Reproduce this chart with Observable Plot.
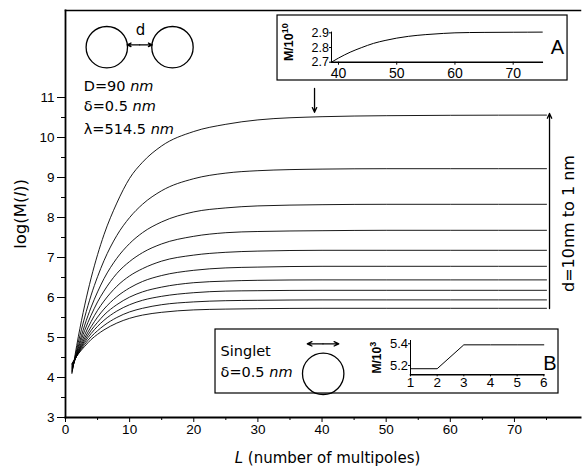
<!DOCTYPE html>
<html><head><meta charset="utf-8">
<script src="https://cdn.jsdelivr.net/npm/d3@7"></script>
<script src="https://cdn.jsdelivr.net/npm/@observablehq/plot@0.6"></script>
<style>
body{margin:0;background:#fff;}
#wrap{position:relative;width:584px;height:470px;}
#insetA{position:absolute;left:277px;top:15px;}
#insetB{position:absolute;left:215px;top:329px;}
</style></head><body>
<div id="wrap"><div id="main"></div><div id="insetA"></div><div id="insetB"></div></div>
<script>
// ---- main data: log(M(l)) vs number of multipoles L, for d = 1..10 nm ----
const L = [1,2,3,4,5,6,8,10,12,15,20,25,30,40,50,60,75];
const d1nm  = [4.10,5.02,5.81,6.49,7.07,7.57,8.36,8.98,9.38,9.79,10.15,10.33,10.44,10.52,10.545,10.555,10.56];
const d2nm  = [4.13,4.88,5.51,6.06,6.52,6.92,7.55,8.00,8.33,8.67,8.97,9.11,9.17,9.21,9.22,9.22,9.22];
const d3nm  = [4.16,4.78,5.31,5.76,6.14,6.47,6.98,7.35,7.62,7.89,8.14,8.24,8.29,8.32,8.33,8.33,8.33];
const d4nm  = [4.19,4.73,5.18,5.56,5.89,6.16,6.60,6.90,7.12,7.34,7.53,7.62,7.65,7.67,7.68,7.68,7.68];
const d5nm  = [4.22,4.68,5.07,5.40,5.68,5.91,6.28,6.54,6.72,6.91,7.06,7.13,7.16,7.18,7.18,7.18,7.18];
const d6nm  = [4.25,4.65,4.99,5.27,5.51,5.71,6.02,6.24,6.40,6.55,6.68,6.74,6.76,6.78,6.78,6.78,6.78];
const d7nm  = [4.28,4.63,4.93,5.18,5.38,5.56,5.82,6.01,6.14,6.26,6.37,6.41,6.43,6.44,6.44,6.44,6.44];
const d8nm  = [4.31,4.62,4.88,5.10,5.28,5.43,5.66,5.82,5.93,6.03,6.12,6.16,6.17,6.18,6.18,6.18,6.18];
const d9nm  = [4.33,4.60,4.83,5.02,5.17,5.30,5.50,5.64,5.73,5.82,5.89,5.92,5.93,5.94,5.94,5.94,5.94];
const d10nm = [4.35,4.59,4.78,4.95,5.08,5.19,5.36,5.48,5.56,5.63,5.69,5.71,5.72,5.73,5.73,5.73,5.73];
const seriesNames = ["1 nm","2 nm","3 nm","4 nm","5 nm","6 nm","7 nm","8 nm","9 nm","10 nm"];
const seriesValues = [d1nm,d2nm,d3nm,d4nm,d5nm,d6nm,d7nm,d8nm,d9nm,d10nm];

const xTicks = [0,10,20,30,40,50,60,70];
const xMinor = [5,15,25,35,45,55,65,75];
const yTicks = [3,4,5,6,7,8,9,10,11];
const yMinor = [3.5,4.5,5.5,6.5,7.5,8.5,9.5,10.5];

// ---- inset A: M/10^10 for d = 1 nm, L = 39..75 ----
const LA = [38.8,40,42,44,46,48,50,52,55,58,60,65,70,75];
const MA = [2.700,2.728,2.768,2.800,2.828,2.848,2.864,2.876,2.888,2.896,2.900,2.903,2.904,2.905];
const xTicksA = [40,50,60,70];
const yTicksA = [2.7,2.8,2.9];

// ---- inset B: singlet, M/10^3 vs L = 1..6 ----
const LB = [1,2,3,4,5,6];
const MB = [5.17,5.17,5.39,5.39,5.39,5.39];
const xTicksB = [1,2,3,4,5,6];
const yTicksB = [5.2,5.4];

// ---- annotations (main-plot data coordinates) ----
const annCircles = [{x:6.44,y:12.2575},{x:16.68,y:12.2575},{x:40.18,y:4.0925}];
const annArrows = [
  {x1:11.57,y1:12.3175,x2:9.62,y2:12.3175},{x1:11.57,y1:12.3175,x2:13.52,y2:12.3175},
  {x1:40.15,y1:4.8425,x2:37.69,y2:4.8425},{x1:40.15,y1:4.8425,x2:42.62,y2:4.8425},
  {x1:38.83,y1:11.225,x2:38.83,y2:10.63},
  {x1:75.47,y1:5.725,x2:75.47,y2:10.6}
];
const annBoxes = [{x1:33.06,x2:78.28,y1:11.425,y2:13.05},{x1:23.39,x2:76.87,y1:3.6,y2:5.2}];
const annTexts = [
  {x:2.85,y:11.29,t:"D=90 nm"},{x:2.85,y:10.79,t:"δ=0.5 nm"},{x:2.85,y:10.2,t:"λ=514.5 nm"},
  {x:24.17,y:4.66,t:"Singlet"},{x:24.17,y:4.13,t:"δ=0.5 nm"}
];
const annD = [{x:11.7,y:12.675,t:"d"}];
const annRange = [{x:78.43,y:7.85,t:"d=10nm to 1 nm"}];

const rows = seriesNames.flatMap((d,j)=>L.map((l,i)=>({L:l,M:seriesValues[j][i],d})));
const sans = "Liberation Sans, Arial, sans-serif";
const wide = "DejaVu Sans, sans-serif";

const main = Plot.plot({
  width:584, height:470, marginLeft:65, marginRight:4, marginTop:10, marginBottom:53,
  x:{domain:[0,80.3]}, y:{domain:[3,13.175]},
  style:{fontFamily:sans, fontSize:"13.5px", color:"black", background:"white"},
  marks:[
    Plot.axisX({ticks:xTicks, tickSize:5, tickPadding:1.5, label:null, tickFormat:d=>d}),
    Plot.axisX({ticks:xMinor, tickSize:3, text:null, label:null}),
    Plot.axisY({ticks:yTicks, tickSize:8, tickPadding:3, label:null, tickFormat:d=>d}),
    Plot.axisY({ticks:yMinor, tickSize:4, text:null, label:null}),
    Plot.frame({anchor:"bottom", strokeWidth:2}),
    Plot.frame({anchor:"left", strokeWidth:1.8}),
    Plot.frame({anchor:"top", strokeWidth:1.5}),
    Plot.line(rows, {x:"L", y:"M", z:"d", curve:"monotone-x", stroke:"black", strokeWidth:0.9}),
    Plot.rect(annBoxes, {x1:"x1", x2:"x2", y1:"y1", y2:"y2", fill:"white", stroke:"black", strokeWidth:1.2}),
    Plot.dot(annCircles, {x:"x", y:"y", r:20.7, stroke:"black", fill:"none", strokeWidth:1.3}),
    Plot.arrow(annArrows, {x1:"x1", y1:"y1", x2:"x2", y2:"y2", headLength:6, headAngle:50, strokeWidth:1.3}),
    Plot.text(annTexts, {x:"x", y:"y", text:"t", textAnchor:"start", fontFamily:wide, fontSize:14.5}),
    Plot.text(annD, {x:"x", y:"y", text:"t", fontFamily:wide, fontSize:15}),
    Plot.text(annRange, {x:"x", y:"y", text:"t", rotate:-90, textAnchor:"middle", fontFamily:wide, fontSize:16}),
    Plot.text(["log(M(l))"], {frameAnchor:"left", dx:-45, rotate:-90, textAnchor:"middle", fontFamily:wide, fontSize:16.5}),
    Plot.text(["L (number of multipoles)"], {frameAnchor:"bottom", dx:4.5, dy:45, textAnchor:"middle", fontFamily:wide, fontSize:15})
  ]
});
document.getElementById("main").append(main);

const insetA = Plot.plot({
  width:291, height:66, marginLeft:54, marginRight:26.2, marginTop:16.6, marginBottom:19.3,
  x:{domain:[38.8,75]}, y:{domain:[2.7,2.905]},
  style:{fontFamily:sans, fontSize:"13px", color:"black", background:"transparent", overflow:"visible"},
  marks:[
    Plot.axisX({ticks:xTicksA, tickSize:3, tickPadding:3, label:null, fontSize:14, tickFormat:d=>d}),
    Plot.axisY({ticks:yTicksA, tickSize:2, tickPadding:0.5, label:null, fontSize:12.5, tickFormat:d3.format(".1f")}),
    Plot.frame({anchor:"bottom", strokeWidth:1.5}),
    Plot.frame({anchor:"left", strokeWidth:1}),
    Plot.line(LA.map((l,i)=>({L:l,M:MA[i]})), {x:"L", y:"M", curve:"monotone-x", strokeWidth:1}),
    Plot.text(["M/10^10"], {frameAnchor:"left", dx:-43, dy:-5, rotate:-90, textAnchor:"middle", fontWeight:"bold", fontSize:12.5}),
    Plot.text(["A"], {frameAnchor:"right", dx:15, textAnchor:"middle", fontFamily:sans, fontSize:20})
  ]
});
document.getElementById("insetA").append(insetA);

const insetB = Plot.plot({
  width:343, height:64, marginLeft:195, marginRight:14.7, marginTop:11, marginBottom:18.7,
  x:{domain:[1,6]}, y:{domain:[5.114,5.43]},
  style:{fontFamily:sans, fontSize:"13px", color:"black", background:"transparent", overflow:"visible"},
  marks:[
    Plot.axisX({ticks:xTicksB, tickSize:2, tickPadding:1, label:null, fontSize:13.5, tickFormat:d=>d}),
    Plot.axisY({ticks:yTicksB, tickSize:2, tickPadding:0.5, label:null, fontSize:13, tickFormat:d3.format(".1f")}),
    Plot.frame({anchor:"bottom", strokeWidth:1.5}),
    Plot.frame({anchor:"left", strokeWidth:1}),
    Plot.line(LB.map((l,i)=>({L:l,M:MB[i]})), {x:"L", y:"M", strokeWidth:1}),
    Plot.text(["M/10^3"], {frameAnchor:"left", dx:-33, rotate:-90, textAnchor:"middle", fontWeight:"bold", fontSize:12}),
    Plot.text(["B"], {frameAnchor:"right", dx:6, dy:6, textAnchor:"middle", fontFamily:sans, fontSize:20})
  ]
});
document.getElementById("insetB").append(insetB);

// italic parts and superscripts of labels
function styleTexts(svg){
  svg.querySelectorAll("text").forEach(t=>{
    const s = t.textContent;
    if (/^(D=|δ=|λ=)/.test(s)) t.innerHTML = s.replace(/nm$/, '<tspan font-style="italic">nm</tspan>');
    else if (s === "log(M(l))") t.innerHTML = 'log(M(<tspan font-style="italic">l</tspan>))';
    else if (s === "L (number of multipoles)") t.innerHTML = '<tspan font-style="italic">L</tspan> (number of multipoles)';
    else if (/^M\/10\^/.test(s)) {
      const e = s.split("^")[1];
      t.innerHTML = 'M/10<tspan dy="-5" font-size="9">' + e + '</tspan>';
    }
  });
}
styleTexts(main); styleTexts(insetA); styleTexts(insetB);
</script>
</body></html>
